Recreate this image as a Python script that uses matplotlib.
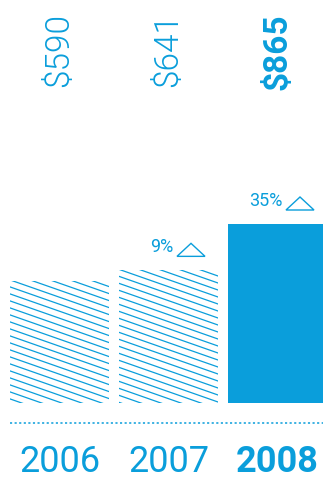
import numpy as np
import matplotlib
matplotlib.use('Agg')
import matplotlib.pyplot as plt
from matplotlib.patches import Polygon

years = ["2006", "2007", "2008"]
revenue = [590, 641, 865]
value_labels = ["$590", "$641", "$865"]
growth_labels = [None, "9%", "35%"]

blue = '#0a9edb'
W, H = 323, 479

fig = plt.figure(figsize=(W / 100, H / 100), dpi=100)
ax = fig.add_axes([0, 0, 1, 1])

# pixel scale: 109 px per category step, 179 px for the tallest bar
px_x = 109.0
px_y = 179.0 / max(revenue)
base_px = 76
ax.set_xlim(-59.5 / px_x, (W - 59.5) / px_x)
ax.set_ylim(-base_px / px_y, (H - base_px) / px_y)
ax.axis('off')

x = np.arange(len(years))
bw = 99 / px_x

def dx(p):
    return p / px_x

def dy(p):
    return p / px_y

for i, (xi, v) in enumerate(zip(x, revenue)):
    last = i == len(years) - 1
    if last:
        ax.bar(xi, v, width=bw, color=blue, lw=0)
    else:
        bar = ax.bar(xi, v, width=bw, color='none', lw=0)[0]
        # shallow diagonal hatching, clipped to the bar
        slope = 0.35
        left = xi - bw / 2
        for k in np.arange(-25, 8):
            x0 = left + dx(20 * k)
            x1 = x0 + dx(600)
            y0 = v + dy(1)
            y1 = y0 - dy(600 * slope)
            ln, = ax.plot([x0, x1], [y0, y1], color=blue, lw=0.9,
                          solid_capstyle='butt')
            ln.set_clip_path(bar)

    weight = 'bold' if last else 'normal'
    ax.text(xi, 1 - 13 / H, value_labels[i], transform=ax.get_xaxis_transform(),
            rotation=90, ha='center', va='top', color=blue,
            fontsize=24, family='Roboto', fontweight='bold' if last else 300)
    ax.text(xi, dy(-59), years[i], ha='center', va='center', color=blue,
            fontsize=26, family='Roboto', fontweight=weight)

    g = growth_labels[i]
    if g:
        tri_r = xi + bw / 2 - dx(13)
        tri_l = tri_r - dx(28)
        yb = v + dy(14)
        tri = Polygon([[tri_l, yb], [tri_r, yb], [(tri_l + tri_r) / 2, yb + dy(13)]],
                      closed=True, fill=False, edgecolor=blue, lw=1.0)
        ax.add_patch(tri)
        ax.text(tri_l - dx(4), yb, g, ha='right', va='bottom', color=blue,
                fontsize=13, family='Roboto', fontweight='normal')

ax.plot([dx(10 - 59.5), dx(W - 59.5)], [dy(-20), dy(-20)], color=blue, lw=1.1,
        linestyle=(0, (1.4, 1.6)))

fig.savefig('out.png', dpi=100)
